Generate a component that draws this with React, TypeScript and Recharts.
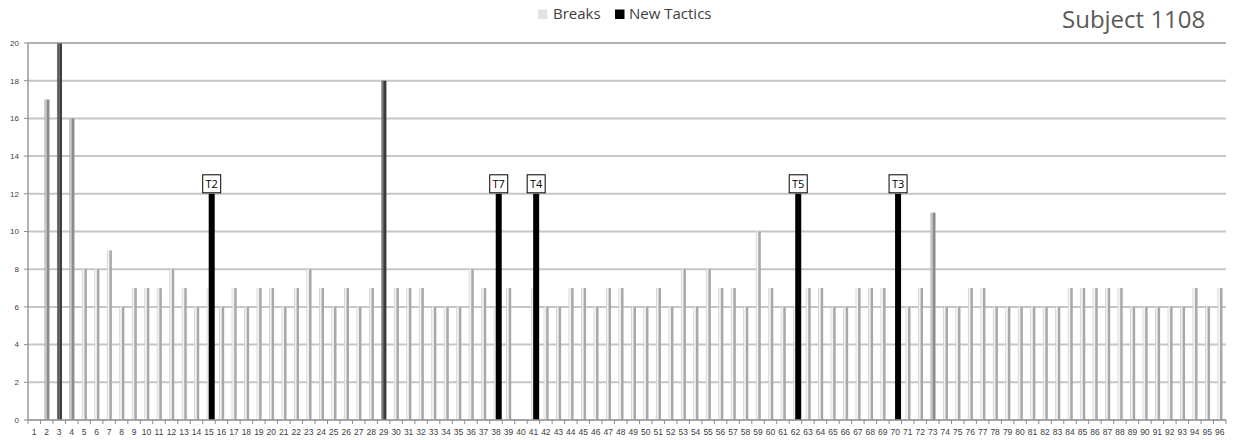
import React from 'react';
import { BarChart, Bar, XAxis, YAxis, CartesianGrid, LabelList, ReferenceLine } from 'recharts';

// ---------- data ----------
const categories = [
  '1', '2', '3', '4', '5', '6', '7', '8', '9', '10',
  '11', '12', '13', '14', '15', '16', '17', '18', '19', '20',
  '21', '22', '23', '24', '25', '26', '27', '28', '29', '30',
  '31', '32', '33', '34', '35', '36', '37', '38', '39', '40',
  '41', '42', '43', '44', '45', '46', '47', '48', '49', '50',
  '51', '52', '53', '54', '55', '56', '57', '58', '59', '60',
  '61', '62', '63', '64', '65', '66', '67', '68', '69', '70',
  '71', '72', '73', '74', '75', '76', '77', '78', '79', '80',
  '81', '82', '83', '84', '85', '86', '87', '88', '89', '90',
  '91', '92', '93', '94', '95', '96',
];

const breaks = [
  0, 17, 20, 16, 8, 8, 9, 6, 7, 7,
  7, 8, 7, 6, 7, 6, 7, 6, 7, 7,
  6, 7, 8, 7, 6, 7, 6, 7, 18, 7,
  7, 7, 6, 6, 6, 8, 7, 6, 7, 0,
  7, 6, 6, 7, 7, 6, 7, 7, 6, 6,
  7, 6, 8, 6, 8, 7, 7, 6, 10, 7,
  6, 6, 7, 7, 6, 6, 7, 7, 7, 0,
  6, 7, 11, 6, 6, 7, 7, 6, 6, 6,
  6, 6, 6, 7, 7, 7, 7, 7, 6, 6,
  6, 6, 6, 7, 6, 7,
];

const tacticCategories = ['15', '38', '41', '62', '70'];
const tacticValues = [12, 12, 12, 12, 12];
const tacticLabels = ['T2', 'T7', 'T4', 'T5', 'T3'];

const yTicks = [0, 2, 4, 6, 8, 10, 12, 14, 16, 18, 20];

// ---------- styles ----------
const FONT = '"Open Sans", "Liberation Sans", sans-serif';
const AXIS_FONT = '"Liberation Sans", Arial, sans-serif';
const SHADE_BY_CATEGORY: Record<string, string> = { '2': 'mid', '3': 'dark', '4': 'mid', '29': 'dark', '73': 'mid' };
const SHADES: Record<string, { edge: string; front: string; side: string }> = {
  light: { edge: '#cfcfcf', front: '#f1f1f1', side: '#a8a8a8' },
  mid: { edge: '#a9a9a9', front: '#bababa', side: '#8c8c8c' },
  dark: { edge: '#6a6a6a', front: '#555555', side: '#3a3a3a' },
};

const CHART_W = 1233;
const CHART_H = 440;
const MARGIN = { top: 43, right: 7, bottom: 0, left: 0 };
const Y_AXIS_W = 28;
const X_AXIS_H = 20;
const BAND = (CHART_W - MARGIN.left - MARGIN.right - Y_AXIS_W) / categories.length;

const tableData = categories.map((cat, i) => {
  const t = tacticCategories.indexOf(cat);
  return {
    cat,
    breaks: breaks[i],
    tactics: t >= 0 ? tacticValues[t] : null,
    label: t >= 0 ? tacticLabels[t] : '',
  };
});

const BreakShape = (props: any) => {
  const { x, y, width, height, payload } = props;
  if (!height || height <= 0) return null;
  const s = SHADES[SHADE_BY_CATEGORY[payload.cat] ?? 'light'];
  const edgeW = width * 0.18;
  const frontW = width * 0.5;
  return (
    <g>
      <rect x={x} y={y} width={edgeW} height={height} fill={s.edge} />
      <rect x={x + edgeW} y={y} width={frontW - edgeW} height={height} fill={s.front} />
      <rect x={x + frontW} y={y} width={width - frontW} height={height} fill={s.side} />
    </g>
  );
};

// New-tactic columns sit just right of the category centre (front row of the 3-D chart)
const TacticShape = (props: any) => {
  const { x, y, width, height } = props;
  if (!height || height <= 0) return null;
  return <rect x={x + width / 2} y={y} width={width} height={height} fill="#000000" />;
};

const TacticLabel = (props: any) => {
  const { x, y, width, value } = props;
  if (!value) return null;
  const cx = x + width;
  const bw = 18;
  const bh = 18;
  return (
    <g>
      <rect x={cx - bw / 2} y={y - bh - 1} width={bw} height={bh} fill="#ffffff" stroke="#000000" strokeWidth={1} />
      <text x={cx} y={y - 5.5} textAnchor="middle" fontSize={11} fontFamily={FONT} fill="#000000">
        {value}
      </text>
    </g>
  );
};

const CategoryTick = (props: any) => {
  const { x, y, payload, index } = props;
  const last = index === categories.length - 1;
  return (
    <g>
      <line x1={x - BAND / 2} x2={x - BAND / 2} y1={y} y2={y + 4} stroke="#8c8c8c" strokeWidth={1} />
      {last && <line x1={x + BAND / 2} x2={x + BAND / 2} y1={y} y2={y + 4} stroke="#8c8c8c" strokeWidth={1} />}
      <text x={x} y={y + 15} textAnchor="middle" fontSize={8.5} fontFamily={AXIS_FONT} fill="#404040">
        {payload.value}
      </text>
    </g>
  );
};

export default function App() {
  return (
    <div style={{ position: 'absolute', left: 0, top: 0, width: CHART_W, height: CHART_H, background: '#ffffff' }}>
      <BarChart width={CHART_W} height={CHART_H} data={tableData} margin={MARGIN}>
        <CartesianGrid vertical={false} stroke="#c6c6c6" strokeWidth={2} />
        <ReferenceLine y={20} stroke="#9a9a9a" strokeWidth={1} />
        <XAxis
          dataKey="cat"
          height={X_AXIS_H}
          interval={0}
          tickLine={false}
          tickSize={0}
          tickMargin={0}
          axisLine={{ stroke: '#9a9a9a', strokeWidth: 1.5 }}
          tick={<CategoryTick />}
        />
        <XAxis xAxisId="tac" dataKey="cat" hide />
        <YAxis
          width={Y_AXIS_W}
          domain={[0, 20]}
          ticks={yTicks}
          interval={0}
          tickSize={4}
          tickMargin={5}
          axisLine={{ stroke: '#9a9a9a', strokeWidth: 1.5 }}
          tickLine={{ stroke: '#8c8c8c' }}
          tick={{ fontSize: 8, fill: '#404040', fontFamily: AXIS_FONT }}
        />
        <Bar dataKey="breaks" name="Breaks" barSize={5} shape={<BreakShape />} isAnimationActive={false} />
        <Bar dataKey="tactics" name="New Tactics" xAxisId="tac" barSize={6} shape={<TacticShape />} isAnimationActive={false}>
          <LabelList dataKey="label" content={<TacticLabel />} />
        </Bar>
      </BarChart>
      <svg
        width={CHART_W}
        height={50}
        style={{ position: 'absolute', left: 0, top: 0, pointerEvents: 'none' }}
      >
        <rect x={538} y={9.5} width={9.5} height={9.5} fill="#e3e3e3" />
        <text x={553} y={19.3} fontSize={15} fontFamily={FONT} fill="#404040">Breaks</text>
        <rect x={615} y={9.5} width={9.5} height={9.5} fill="#000000" />
        <text x={629} y={19.3} fontSize={15} fontFamily={FONT} fill="#404040">New Tactics</text>
        <text x={1062} y={28.3} fontSize={24} fontFamily={FONT} fill="#595959">Subject 1108</text>
      </svg>
    </div>
  );
}
